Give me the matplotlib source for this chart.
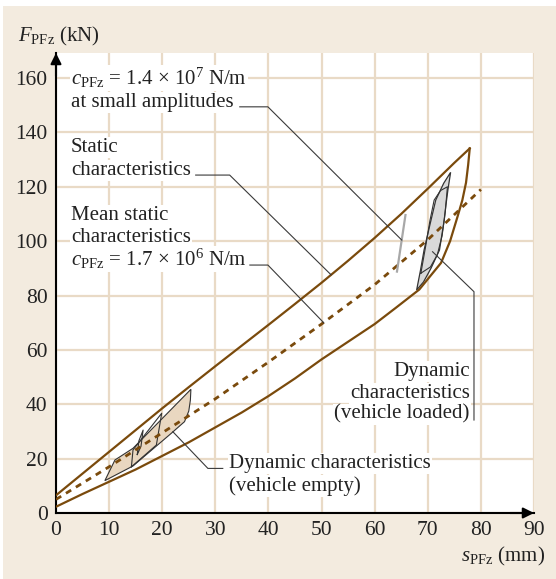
import matplotlib
matplotlib.use("Agg")
import matplotlib.pyplot as plt
from matplotlib.patches import Rectangle, Polygon

# static characteristics: spring travel s (mm) vs. force F (kN)
upper_s = [0, 5, 10, 15, 20, 25, 30, 35, 40, 45, 50, 55, 60, 65, 70, 75, 77.9]
upper_F = [6.5, 14.5, 22.5, 30.5, 38.5, 46.3, 54, 61.6, 69.2, 76.9, 84.7, 92.8, 101.2, 110, 119.3, 128.8, 134.1]
lower_s = [0, 5, 10, 15, 20, 25, 30, 35, 40, 45, 50, 55, 60, 64, 68.4, 72.5, 74.2, 75.6, 76.5, 77.2, 77.6, 77.9]
lower_F = [2.3, 7, 11.5, 16, 21, 26, 31.5, 37, 43, 49.5, 56.5, 63, 69.5, 75.5, 82.2, 92, 100, 109, 115, 121.5, 128, 134.1]
mean_s = [0, 10, 20, 30, 40, 50, 60, 70, 80]
mean_F = [5, 17, 29.5, 42, 55.5, 69.5, 84, 100.5, 119]

# stiffness at small amplitudes
small_amp_s = [64.2, 65.8]
small_amp_F = [88.8, 109.6]

# dynamic characteristics, vehicle empty
empty_outer_s = [9.2, 11.1, 14.5, 25.4, 25.3, 25.0, 24.2, 21.7, 14.5, 9.2]
empty_outer_F = [11.9, 19.5, 23.8, 45.5, 41.5, 37.5, 33.6, 29.3, 17.3, 11.9]
empty_mid_s = [14.2, 14.5, 19.9, 18.9, 14.2]
empty_mid_F = [17.0, 23.2, 36.7, 25.0, 17.0]
empty_small_s = [15.3, 15.6, 16.4, 16.0, 15.3]
empty_small_F = [21.5, 26.5, 30.5, 24.5, 21.5]

# dynamic characteristics, vehicle loaded
loaded_outer_s = [67.9, 68.6, 69.3, 70.4, 71.5, 73.0, 74.3, 73.8, 73.4, 73.1, 72.2, 70.6, 69.2, 67.9]
loaded_outer_F = [82, 89, 96.7, 106, 115.1, 121.3, 125.3, 119, 113, 107.8, 96.7, 90, 85, 82]
loaded_inner_s = [68.7, 69.7, 70.4, 71.2, 72.4, 73.7, 73.3, 72.7, 71.8, 70.5, 68.7]
loaded_inner_F = [88.2, 99.2, 107.5, 115.1, 118.6, 120, 111, 102, 95, 90.5, 88.2]

x_ticks = [0, 10, 20, 30, 40, 50, 60, 70, 80, 90]
y_ticks = [0, 20, 40, 60, 80, 100, 120, 140, 160]

BG = "#f3ebdf"
GRID = "#e9dac6"
BROWN = "#7a4a0c"
TAN = "#e9d7c0"
GRAY_FILL = "#d9d9d9"
LEADER = "#3a3a3a"
INK = "#222222"

plt.rcParams["font.family"] = "Liberation Serif"
plt.rcParams["mathtext.fontset"] = "custom"
plt.rcParams["mathtext.rm"] = "Liberation Serif"
plt.rcParams["mathtext.it"] = "Liberation Serif:italic"

fig = plt.figure(figsize=(5.56, 5.79), dpi=100, facecolor="white")
fig.patches.append(Rectangle((3 / 556, 0), 553 / 556, 573 / 579,
                             transform=fig.transFigure, facecolor=BG,
                             edgecolor="none", zorder=-10))
ax = fig.add_axes([56 / 556, 66 / 579, 478 / 556, 460 / 579])
ax.set_facecolor("white")
ax.set_xlim(0, 90)
ax.set_ylim(0, 169.2)
ax.set_xticks(x_ticks)
ax.set_yticks(y_ticks)
ax.tick_params(length=0, labelsize=15.5, pad=6, colors=INK)
ax.grid(True, color=GRID, lw=1.6)
ax.set_axisbelow(True)
for side in ("top", "right"):
    ax.spines[side].set_visible(False)
for side in ("left", "bottom"):
    ax.spines[side].set_linewidth(1.5)
ax.annotate("", xy=(0, 1), xytext=(0, 0.95), xycoords="axes fraction",
            arrowprops=dict(arrowstyle="-|>", color="black", lw=1.5,
                            mutation_scale=16, shrinkA=0, shrinkB=0))
ax.annotate("", xy=(1, 0), xytext=(0.95, 0), xycoords="axes fraction",
            arrowprops=dict(arrowstyle="-|>", color="black", lw=1.5,
                            mutation_scale=16, shrinkA=0, shrinkB=0))

# dynamic loops
ax.add_patch(Polygon(list(zip(empty_outer_s, empty_outer_F)), closed=True,
                     facecolor=TAN, edgecolor="#333333", lw=0.8, zorder=2))
ax.plot(empty_mid_s, empty_mid_F, color="#333333", lw=0.8, zorder=3)
ax.plot(empty_small_s, empty_small_F, color="#333333", lw=0.8, zorder=3)
ax.add_patch(Polygon(list(zip(loaded_outer_s, loaded_outer_F)), closed=True,
                     facecolor=GRAY_FILL, edgecolor="#333333", lw=0.9, zorder=2))
ax.plot(loaded_inner_s, loaded_inner_F, color="#333333", lw=0.8, zorder=3)

# static curves
ax.plot(upper_s, upper_F, color=BROWN, lw=1.6, zorder=4)
ax.plot(lower_s, lower_F, color=BROWN, lw=1.6, zorder=4)
ax.plot(mean_s, mean_F, color=BROWN, lw=2.0, ls=(0, (2.2, 2.0)), zorder=4)
ax.plot(small_amp_s, small_amp_F, color="#a8a8a8", lw=1.6, zorder=4)

# leaders
leaders = [
    ([34.6, 39.9, 65.1], [149.4, 149.4, 100.4]),
    ([26.3, 32.7, 51.8], [124.3, 124.3, 87.6]),
    ([36.5, 39.9, 50.4], [91.2, 91.2, 70.0]),
    ([70.9, 78.7, 78.7], [96.1, 81.4, 34.2]),
    ([22.0, 28.6, 31.4], [29.9, 16.4, 16.4]),
]
for lx, ly in leaders:
    ax.plot(lx, ly, color=LEADER, lw=0.8, zorder=5)

box = dict(facecolor="white", edgecolor="none", pad=0.8)
fs = 15
left_texts = [
    (157.4, r"$c_{\mathrm{PFz}}$ = 1.4 × 10$^7$ N/m"),
    (149.4, "at small amplitudes"),
    (132.9, "Static"),
    (124.3, "characteristics"),
    (107.6, "Mean static"),
    (99.6, "characteristics"),
    (90.8, r"$c_{\mathrm{PFz}}$ = 1.7 × 10$^6$ N/m"),
]
for y, t in left_texts:
    ax.text(2.8, y, t, fontsize=fs, va="baseline", ha="left", bbox=box,
            zorder=6, color=INK)
for y, t in [(50.4, "Dynamic"), (42.2, "characteristics"), (34.6, "(vehicle loaded)")]:
    ax.text(77.9, y, t, fontsize=fs, va="baseline", ha="right", bbox=box,
            zorder=6, color=INK)
for y, t in [(16.4, "Dynamic characteristics"), (8.1, "(vehicle empty)")]:
    ax.text(32.6, y, t, fontsize=fs, va="baseline", ha="left", bbox=box,
            zorder=6, color=INK)

fig.text(18 / 556, 1 - 41.7 / 579, r"$F_{\mathrm{PFz}}$ (kN)", fontsize=fs,
         va="baseline", ha="left", color=INK)
fig.text(545 / 556, 1 - 561.7 / 579, r"$s_{\mathrm{PFz}}$ (mm)", fontsize=fs,
         va="baseline", ha="right", color=INK)

fig.savefig("out.png", dpi=100, facecolor="white")
